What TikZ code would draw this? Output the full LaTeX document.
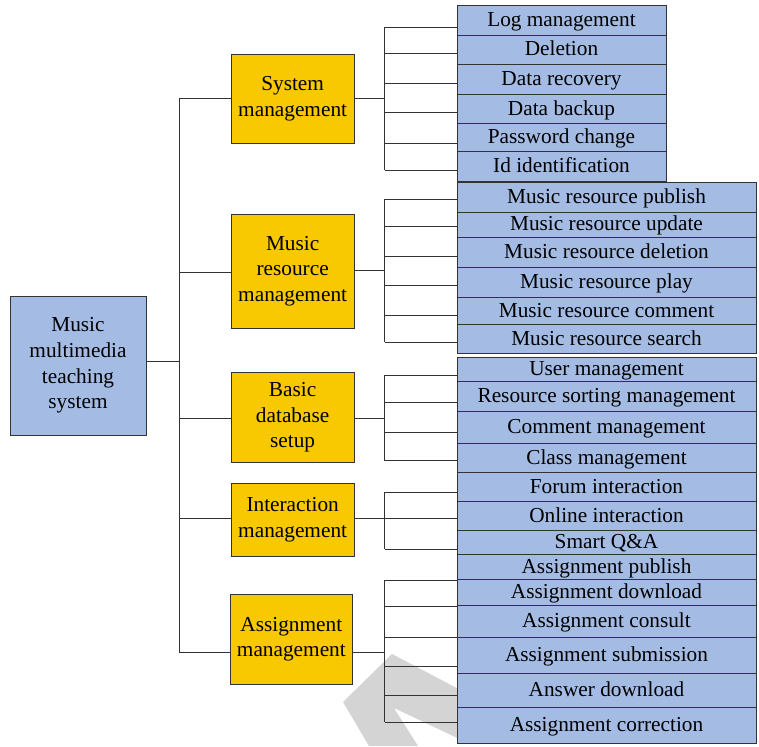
\documentclass[tikz,border=0pt]{standalone}
\usepackage{fontspec}
\setmainfont{Liberation Serif}
\definecolor{leafblue}{HTML}{A4BCE4}
\definecolor{modyellow}{HTML}{F8C800}
\definecolor{edgegray}{HTML}{333333}
\definecolor{markgray}{HTML}{D4D4D4}
\tikzset{
  box/.style={draw=edgegray, line width=1pt, inner sep=0pt, outer sep=0pt,
              anchor=north west, align=center,
              font=\fontsize{21.3}{25.7}\selectfont},
  leafbox/.style={box, fill=leafblue, text height=16pt, text depth=4pt},
  modbox/.style={box, fill=modyellow},
  rootbox/.style={box, fill=leafblue},
  wire/.style={draw=edgegray, line width=1pt},
}
% box from its top-left corner (x1,y1) to its bottom-right corner (x2,y2)
\newcommand{\boxat}[6]{\node[#1, minimum width={(#4-#2)*1pt},
  minimum height={(#5-#3)*1pt}] (#6) at (#2,#3)}
% horizontal branch from a bracket at height y into a leaf
\newcommand{\twig}[3]{\draw[wire] (#1 |- 0,#2) -- (#3.west |- 0,#2);}

\begin{document}
\begin{tikzpicture}[x=1pt, y=-1pt]
\useasboundingbox (0,0) rectangle (759,746);

% faint logo mark in the background
\fill[markgray] (343,702) -- (392,654) -- (470,695) -- (470,744)
  -- (394,708) -- (418,746) -- (369,746) -- cycle;

% ---------- boxes ----------
\boxat{rootbox}{10}{296}{146}{435.3}{root} {Music\\multimedia\\teaching\\system};

\boxat{modbox}{231.3}{54.7}{354}{143.3}{sys} {System\\management};
\boxat{modbox}{231.3}{214}{354}{328}{mus} {Music\\resource\\management};
\boxat{modbox}{231.3}{372.7}{354}{462}{bas} {Basic\\database\\setup};
\boxat{modbox}{231.3}{483.3}{354}{556.7}{int} {Interaction\\management};
\boxat{modbox}{230}{594}{352.7}{684.7}{asg} {Assignment\\management};

% system management
\boxat{leafbox}{457}{5.3}{666}{35.3}{s1} {Log management};
\boxat{leafbox}{457}{35.3}{666}{64.7}{s2} {Deletion};
\boxat{leafbox}{457}{64.7}{666}{94.7}{s3} {Data recovery};
\boxat{leafbox}{457}{94.7}{666}{124}{s4} {Data backup};
\boxat{leafbox}{457}{124}{666}{152}{s5} {Password change};
\boxat{leafbox}{457}{152}{666}{181.7}{s6} {Id identification};
% music resource management
\boxat{leafbox}{457}{182.7}{756}{212}{m1} {Music resource publish};
\boxat{leafbox}{457}{212}{756}{237.3}{m2} {Music resource update};
\boxat{leafbox}{457}{237.3}{756}{267.3}{m3} {Music resource deletion};
\boxat{leafbox}{457}{267.3}{756}{297.3}{m4} {Music resource play};
\boxat{leafbox}{457}{297.3}{756}{324.7}{m5} {Music resource comment};
\boxat{leafbox}{457}{324.7}{756}{353.3}{m6} {Music resource search};
% basic database setup
\boxat{leafbox}{457}{357.3}{756}{381.3}{b1} {User management};
\boxat{leafbox}{457}{381.3}{756}{411.3}{b2} {Resource sorting management};
\boxat{leafbox}{457}{411.3}{756}{443.3}{b3} {Comment management};
\boxat{leafbox}{457}{443.3}{756}{472.7}{b4} {Class management};
% interaction management
\boxat{leafbox}{457}{472.7}{756}{501.3}{i1} {Forum interaction};
\boxat{leafbox}{457}{501.3}{756}{530.7}{i2} {Online interaction};
\boxat{leafbox}{457}{530.7}{756}{554.7}{i3} {Smart Q\&A};
% assignment management
\boxat{leafbox}{457}{554.7}{756}{579.3}{a1} {Assignment publish};
\boxat{leafbox}{457}{579.3}{756}{605.3}{a2} {Assignment download};
\boxat{leafbox}{457}{605.3}{756}{637.3}{a3} {Assignment consult};
\boxat{leafbox}{457}{637.3}{756}{673.3}{a4} {Assignment submission};
\boxat{leafbox}{457}{673.3}{756}{707.3}{a5} {Answer download};
\boxat{leafbox}{457}{707.3}{756}{743.3}{a6} {Assignment correction};

% ---------- connectors ----------
\coordinate (trunk) at (179.3,361.3);
\coordinate (brk) at (384.7,0);

% root to the five modules
\draw[wire] (root.east |- trunk) -- (trunk);
\draw[wire] (trunk |- 0,99) -- (trunk |- 0,652);
\draw[wire] (trunk |- sys.west) -- (sys.west);
\draw[wire] (trunk |- 0,272) -- (mus.west |- 0,272);
\draw[wire] (trunk |- 0,418) -- (bas.west |- 0,418);
\draw[wire] (trunk |- 0,518.7) -- (int.west |- 0,518.7);
\draw[wire] (trunk |- 0,652) -- (asg.west |- 0,652);

% system management bracket
\draw[wire] (sys.east) -- (brk |- sys.east);
\draw[wire] (brk |- 0,27.3) -- (brk |- 0,170);
\twig{brk}{27.3}{s1} \twig{brk}{53.3}{s2} \twig{brk}{84}{s3}
\twig{brk}{112.7}{s4} \twig{brk}{143.3}{s5} \twig{brk}{170}{s6}

% music resource management bracket
\draw[wire] (mus.east |- 0,270.7) -- (brk |- 0,270.7);
\draw[wire] (brk |- 0,199.3) -- (brk |- 0,342);
\twig{brk}{199.3}{m1} \twig{brk}{226.7}{m2} \twig{brk}{256}{m3}
\twig{brk}{285.3}{m4} \twig{brk}{315.3}{m5} \twig{brk}{342}{m6}

% basic database setup bracket
\draw[wire] (bas.east |- 0,418.7) -- (brk |- 0,418.7);
\draw[wire] (brk |- 0,375.3) -- (brk |- 0,460.7);
\twig{brk}{375.3}{b1} \twig{brk}{402.7}{b2} \twig{brk}{432}{b3}
\twig{brk}{460.7}{b4}

% interaction management bracket
\draw[wire] (int.east |- 0,518.7) -- (i2.west |- 0,518.7);
\draw[wire] (brk |- 0,492) -- (brk |- 0,549.3);
\twig{brk}{492}{i1} \twig{brk}{549.3}{i3}

% assignment management bracket
\draw[wire] (asg.east |- 0,652.7) -- (brk |- 0,652.7);
\draw[wire] (brk |- 0,580) -- (brk |- 0,722);
\twig{brk}{580}{a2} \twig{brk}{606.7}{a3} \twig{brk}{637.3}{a4}
\twig{brk}{666}{a5} \twig{brk}{695.3}{a6} \twig{brk}{722}{a6}
\end{tikzpicture}
\end{document}
